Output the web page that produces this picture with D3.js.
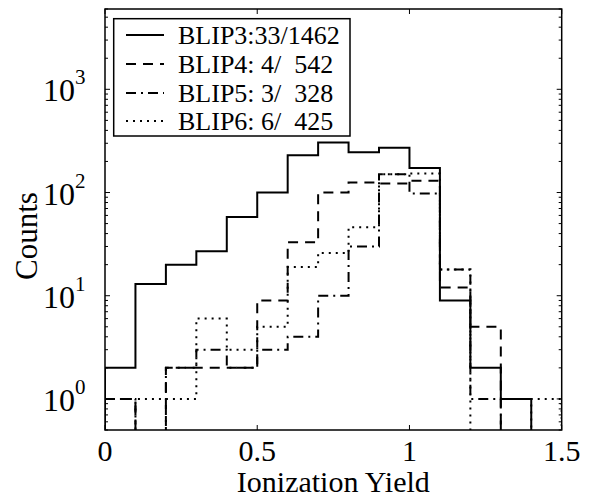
<!DOCTYPE html>
<html><head><meta charset="utf-8">
<script src="https://cdn.jsdelivr.net/npm/d3@7"></script>
<style>
body{margin:0;background:#fff;}
svg{display:block;}
text{font-family:"Liberation Serif","Times New Roman",serif;fill:#000;}
</style></head>
<body><div id="chart"></div>
<script>
// Data
const binEdges = [0,0.1,0.2,0.3,0.4,0.5,0.6,0.7,0.8,0.9,1.0,1.1,1.2,1.3,1.4,1.5];
const blip3 = [2,13,20,27,58,100,230,305,245,272,173,9,2,1,0];
const blip4 = [1,0,2,2,2,9,33,100,125,122,130,12,5,0,0];
const blip5 = [1,0,2,3,2,3,4,10,30,150,98,18,1,0,0];
const blip6 = [0,1,1,6,3,5,19,26,46,150,153,18,0,0,1];
const seriesNames = ["BLIP3:33/1462","BLIP4: 4/  542","BLIP5: 3/  328","BLIP6: 6/  425"];
const xTicks = [0,0.5,1,1.5];
const xTickLabels = ["0","0.5","1","1.5"];
const yTicks = [1,10,100,1000];
const yTickExp = ["0","1","2","3"];

const W=592,H=498;
const L=105,T=9,R=561.7,B=430;
const svg=d3.select("#chart").append("svg").attr("width",W).attr("height",H);
const x=d3.scaleLinear().domain([0,1.5]).range([L,R]);
const y=d3.scaleLog().domain([0.5,6000]).range([B,T]);

const styles=[
  {data:blip3,dash:null},
  {data:blip4,dash:"10,7"},
  {data:blip5,dash:"10,5,2,5"},
  {data:blip6,dash:"2,5"}
];

svg.append("clipPath").attr("id","clip").append("rect")
  .attr("x",L).attr("y",T).attr("width",R-L).attr("height",B-T);

const yv=v=> v>0 ? y(v) : B+20;
function stepPath(vals){
  const pts=[[x(binEdges[0]),B+20]];
  vals.forEach((v,i)=>{
    pts.push([x(binEdges[i]),yv(v)]);
    pts.push([x(binEdges[i+1]),yv(v)]);
  });
  pts.push([x(binEdges[binEdges.length-1]),B+20]);
  return d3.line()(pts);
}
const g=svg.append("g").attr("clip-path","url(#clip)");
styles.slice().reverse().forEach(s=>{
  g.append("path").attr("d",stepPath(s.data)).attr("fill","none")
   .attr("stroke","#000").attr("stroke-width",2)
   .attr("stroke-dasharray",s.dash);
});

// box
svg.append("rect").attr("x",L).attr("y",T).attr("width",R-L).attr("height",B-T)
  .attr("fill","none").attr("stroke","#000").attr("stroke-width",1.5);

// x ticks
xTicks.forEach((t,i)=>{
  svg.append("line").attr("x1",x(t)).attr("x2",x(t)).attr("y1",B).attr("y2",B-5).attr("stroke","#000").attr("stroke-width",1);
  svg.append("line").attr("x1",x(t)).attr("x2",x(t)).attr("y1",T).attr("y2",T+5).attr("stroke","#000").attr("stroke-width",1);
  svg.append("text").attr("x",x(t)).attr("y",461).attr("text-anchor","middle")
    .attr("font-size",30).text(xTickLabels[i]);
});
// y ticks
const minor=[];
[0.1,1,10,100,1000].forEach(d=>{for(let k=2;k<=9;k++){const v=d*k;if(v>=0.5&&v<=6000)minor.push(v);}});
minor.forEach(v=>{
  [[L,L+3],[R,R-3]].forEach(([a,b])=>svg.append("line").attr("x1",a).attr("x2",b).attr("y1",y(v)).attr("y2",y(v)).attr("stroke","#000").attr("stroke-width",1));
});
yTicks.forEach((t,i)=>{
  [[L,L+5],[R,R-5]].forEach(([a,b])=>svg.append("line").attr("x1",a).attr("x2",b).attr("y1",y(t)).attr("y2",y(t)).attr("stroke","#000").attr("stroke-width",1));
  const tx=svg.append("text").attr("x",43).attr("y",y(t)+12).attr("font-size",32);
  tx.append("tspan").text("10");
  tx.append("tspan").attr("font-size",21).attr("dy",-17).text(yTickExp[i]);
});

// axis labels
svg.append("text").attr("x",(L+R)/2).attr("y",492).attr("text-anchor","middle")
  .attr("font-size",30).text("Ionization Yield");
svg.append("text").attr("transform","translate(37,236) rotate(-90)").attr("text-anchor","middle")
  .attr("font-size",31).text("Counts");

// legend
svg.append("rect").attr("x",113.7).attr("y",18.7).attr("width",350-113.7).attr("height",136-18.7)
  .attr("fill","#fff").attr("stroke","#000").attr("stroke-width",1.5);
const rowY=[35,64,93,121];
styles.forEach((s,i)=>{
  svg.append("line").attr("x1",126).attr("x2",164).attr("y1",rowY[i]).attr("y2",rowY[i])
    .attr("stroke","#000").attr("stroke-width",2).attr("stroke-dasharray",s.dash);
  svg.append("text").attr("x",178).attr("y",rowY[i]+9).attr("font-size",26)
    .style("white-space","pre").text(seriesNames[i]);
});
</script></body></html>
